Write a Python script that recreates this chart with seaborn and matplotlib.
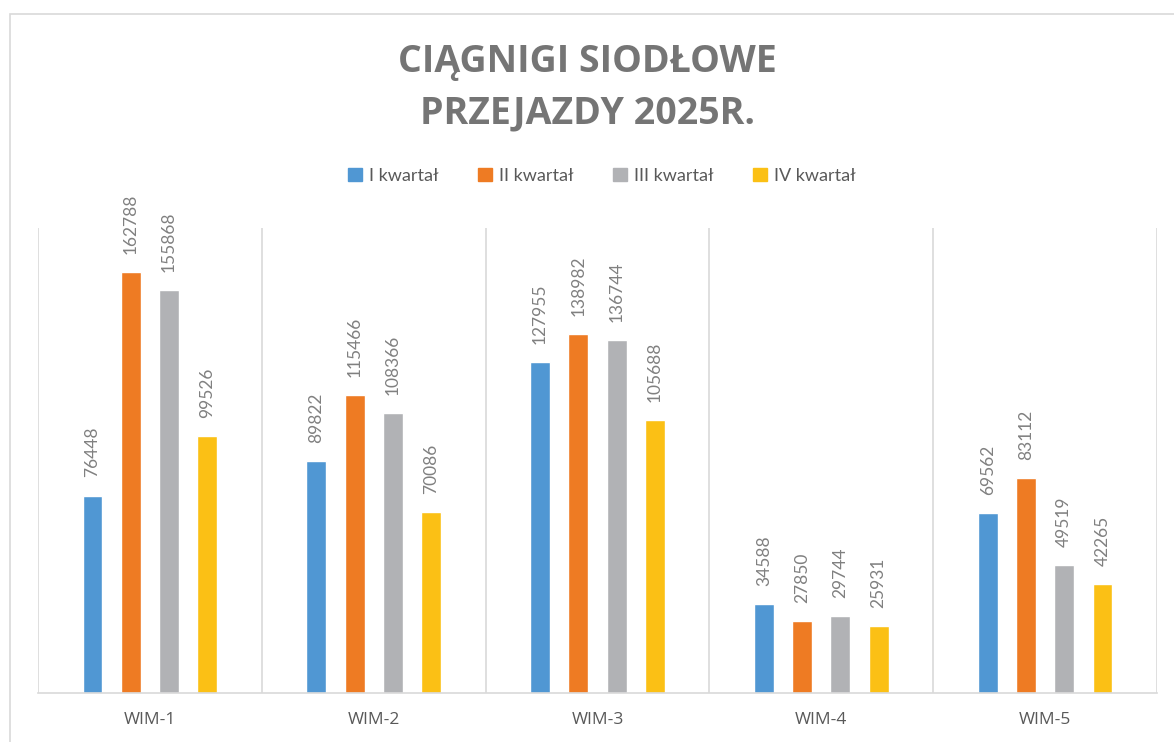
import pandas as pd
import matplotlib.pyplot as plt
import seaborn as sns
from matplotlib.patches import Rectangle
from matplotlib.ticker import FixedLocator

# data
sites = ['WIM-1', 'WIM-2', 'WIM-3', 'WIM-4', 'WIM-5']
quarters = ['I kwartał', 'II kwartał', 'III kwartał', 'IV kwartał']
q1 = [76448, 89822, 127955, 34588, 69562]
q2 = [162788, 115466, 138982, 27850, 83112]
q3 = [155868, 108366, 136744, 29744, 49519]
q4 = [99526, 70086, 105688, 25931, 42265]
colors = ['#5097D3', '#EE7B23', '#B1B2B5', '#FBC015']

rows = []
for q, vals in zip(quarters, [q1, q2, q3, q4]):
    for s, v in zip(sites, vals):
        rows.append({'Site': s, 'Quarter': q, 'Value': v})
df = pd.DataFrame(rows)

sns.set_theme(style='white')
plt.rcParams['font.family'] = ['Lato', 'DejaVu Sans']

fig = plt.figure(figsize=(11.74, 7.42), dpi=100)
ax = fig.add_axes([38 / 1174, 1 - 693 / 742, (1157 - 38) / 1174, (693 - 228) / 742])

sns.barplot(data=df, x='Site', y='Value', hue='Quarter', order=sites, hue_order=quarters,
            palette=colors, width=0.684, gap=0.48, saturation=1, ax=ax, legend=False)

# value labels above the bars
for cont in ax.containers:
    ax.bar_label(cont, fmt='%d', rotation=90, padding=13, color='#808080', fontsize=12.5)

ax.set_ylim(0, 180000)
ax.set_xlim(-0.5, len(sites) - 0.5)
ax.set_xlabel('')
ax.set_ylabel('')
ax.set_yticks([])
ax.tick_params(axis='x', length=0, pad=14, labelsize=12.5, labelcolor='#595959')
for lbl in ax.get_xticklabels():
    lbl.set_fontfamily(['Open Sans', 'DejaVu Sans'])

# category separators
ax.xaxis.set_minor_locator(FixedLocator([i - 0.5 for i in range(len(sites) + 1)]))
ax.grid(False)
ax.grid(which='minor', axis='x', color='#D9D9D9', linewidth=1.2)
for side in ['top', 'left', 'right']:
    ax.spines[side].set_visible(False)
ax.spines['bottom'].set_color('#D9D9D9')
ax.spines['bottom'].set_linewidth(1.2)

# title
fig.text(0.5, 1 - 62 / 742, 'CIĄGNIGI SIODŁOWE', ha='center', va='center',
         fontsize=27, fontweight='bold', color='#757575', family=['Open Sans', 'DejaVu Sans'])
fig.text(0.5, 1 - 113 / 742, 'PRZEJAZDY 2025R.', ha='center', va='center',
         fontsize=27, fontweight='bold', color='#757575', family=['Open Sans', 'DejaVu Sans'])

# legend
handles = [Rectangle((0, 0), 1, 1, color=c) for c in colors]
fig.legend(handles, quarters, loc='center', bbox_to_anchor=(602 / 1174, 1 - 176 / 742), ncol=4,
           frameon=False, fontsize=13, labelcolor='#595959', handlelength=0.75,
           handleheight=0.75, handletextpad=0.4, columnspacing=2.2)

# outer chart border
fig.patches.append(Rectangle((10 / 1174, -0.1), 1.2, 1.1 - 14 / 742, transform=fig.transFigure,
                             fill=False, edgecolor='#D9D9D9', linewidth=1.2))

fig.savefig('out.png', dpi=100)
